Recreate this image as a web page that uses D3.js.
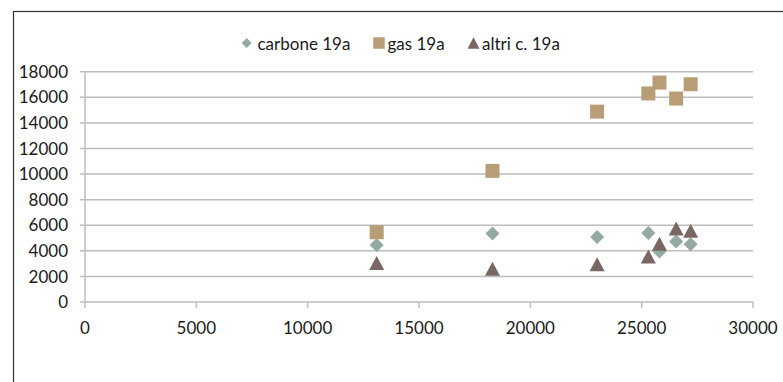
<!DOCTYPE html>
<html>
<head>
<meta charset="utf-8">
<script src="https://cdn.jsdelivr.net/npm/d3@7"></script>
<style>
  body { margin: 0; background: #fff; }
  text { font-family: Lato, "Open Sans", sans-serif; fill: #1a1a1a; }
</style>
</head>
<body>
<div class="scatter"></div>
<script>
// income values shared by the three series
const xValues = [13100, 18300, 23000, 25300, 25800, 26550, 27200];
const carbone = [4450, 5350, 5080, 5400, 3950, 4730, 4520];
const gas = [5450, 10250, 14880, 16300, 17150, 15900, 17020];
const altri = [3050, 2600, 2950, 3560, 4560, 5740, 5570];

const seriesNames = ["carbone 19a", "gas 19a", "altri c. 19a"];
const seriesColors = ["#93a9a1", "#b89e76", "#786763"];
const xTicks = [0, 5000, 10000, 15000, 20000, 25000, 30000];
const yTicks = [0, 2000, 4000, 6000, 8000, 10000, 12000, 14000, 16000, 18000];

const width = 783, height = 382;

const svg = d3.select(".scatter")
              .append("svg")
                  .attr("width", width)
                  .attr("height", height);

/* outer chart frame (right/bottom edges fall outside the crop) */
svg.append("rect")
   .attr("x", 13.5).attr("y", 11.5)
   .attr("width", 900).attr("height", 500)
   .attr("fill", "none")
   .attr("stroke", "#333")
   .attr("stroke-width", 1.2);

const x = d3.scaleLinear().domain([0, 30000]).range([85, 753]);
const y = d3.scaleLinear().domain([0, 18000]).range([302, 71.7]);

/* gridlines + y ticks */
svg.append("g")
   .selectAll("line")
   .data(yTicks)
   .enter()
   .append("line")
       .attr("x1", 80).attr("x2", 753)
       .attr("y1", d => y(d)).attr("y2", d => y(d))
       .attr("stroke", "#bdbdbd")
       .attr("stroke-width", 1.5);

svg.append("line")
   .attr("x1", x(0)).attr("x2", x(0))
   .attr("y1", y(18000)).attr("y2", y(0))
   .attr("stroke", "#bdbdbd")
   .attr("stroke-width", 1.5);

svg.append("g")
   .selectAll("line")
   .data(xTicks)
   .enter()
   .append("line")
       .attr("x1", d => x(d)).attr("x2", d => x(d))
       .attr("y1", y(0)).attr("y2", y(0) + 6)
       .attr("stroke", "#bdbdbd")
       .attr("stroke-width", 1.5);

svg.append("g")
   .selectAll("text")
   .data(yTicks)
   .enter()
   .append("text")
       .attr("x", 68)
       .attr("y", d => y(d))
       .attr("dy", "0.36em")
       .attr("text-anchor", "end")
       .attr("font-size", "17px")
       .text(d => d);

svg.append("g")
   .selectAll("text")
   .data(xTicks)
   .enter()
   .append("text")
       .attr("x", d => x(d))
       .attr("y", 328)
       .attr("dy", "0.36em")
       .attr("text-anchor", "middle")
       .attr("font-size", "17px")
       .text(d => d);

/* marker shapes */
const diamond = s => d3.symbol().type(d3.symbolSquare).size(s * s / 2)();
const square = s => d3.symbol().type(d3.symbolSquare).size(s * s)();
const triangle = (w, h) => "M0," + (-h / 2) + "L" + (w / 2) + "," + (h / 2) + "L" + (-w / 2) + "," + (h / 2) + "Z";

const series = [
    { name: seriesNames[0], values: carbone, color: seriesColors[0], shape: () => diamond(14), rot: 45 },
    { name: seriesNames[1], values: gas, color: seriesColors[1], shape: () => square(14), rot: 0 },
    { name: seriesNames[2], values: altri, color: seriesColors[2], shape: () => triangle(15, 14), rot: 0 }
];

series.forEach(s => {
    svg.append("g")
       .selectAll("path")
       .data(s.values)
       .enter()
       .append("path")
           .attr("d", s.shape())
           .attr("transform", (d, i) => "translate(" + x(xValues[i]) + "," + y(d) + ") rotate(" + s.rot + ")")
           .attr("fill", s.color);
});

/* legend */
const legend = [
    { mx: 246.7, tx: 257.5, d: diamond(10), rot: 45 },
    { mx: 379, tx: 387.5, d: square(11.5), rot: 0 },
    { mx: 473.5, tx: 482, d: triangle(12, 11.5), rot: 0 }
];

legend.forEach((l, i) => {
    svg.append("path")
       .attr("d", l.d)
       .attr("transform", "translate(" + l.mx + ",43) rotate(" + l.rot + ")")
       .attr("fill", seriesColors[i]);
    svg.append("text")
       .attr("x", l.tx)
       .attr("y", 44)
       .attr("dy", "0.36em")
       .attr("font-size", "17px")
       .text(seriesNames[i]);
});
</script>
</body>
</html>
